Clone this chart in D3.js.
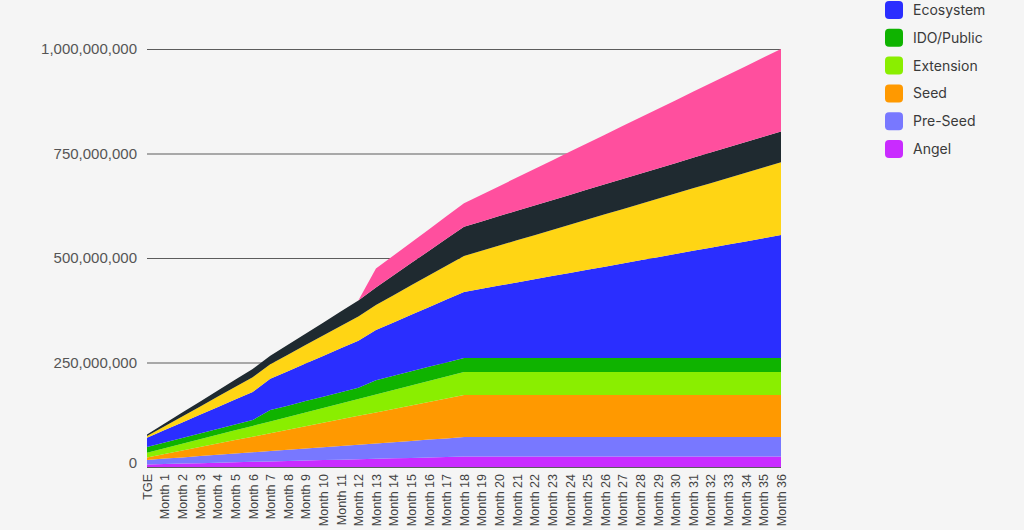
<!DOCTYPE html>
<html>
<head>
<meta charset="utf-8">
<script src="https://cdn.jsdelivr.net/npm/d3@7"></script>
<style>
  body { margin: 0; background: #f5f5f5; }
  svg { display: block; font-family: Inter, "Noto Sans", sans-serif; }
</style>
</head>
<body>
<div id="vis"></div>
<script>

// x categories
const MONTHS = ["TGE", "Month 1", "Month 2", "Month 3", "Month 4", "Month 5", "Month 6",
  "Month 7", "Month 8", "Month 9", "Month 10", "Month 11", "Month 12", "Month 13",
  "Month 14", "Month 15", "Month 16", "Month 17", "Month 18", "Month 19", "Month 20",
  "Month 21", "Month 22", "Month 23", "Month 24", "Month 25", "Month 26", "Month 27",
  "Month 28", "Month 29", "Month 30", "Month 31", "Month 32", "Month 33", "Month 34",
  "Month 35", "Month 36"];

// unlocked tokens per allocation, in millions
const ANGEL = [6, 7.1, 8.1, 9.2, 10.2, 11.3, 12.3, 13.4, 14.4, 15.5, 16.6, 17.6, 18.7, 19.7,
  20.8, 21.8, 22.9, 23.9, 25, 25, 25, 25, 25, 25, 25, 25, 25, 25, 25, 25, 25, 25, 25, 25, 25, 25, 25];
const PRE_SEED = [11, 13, 14.9, 16.9, 18.9, 20.9, 22.8, 24.8, 26.8, 28.8, 30.7, 32.7, 34.7, 36.6,
  38.6, 40.6, 42.6, 44.5, 46.5, 46.5, 46.5, 46.5, 46.5, 46.5, 46.5, 46.5, 46.5, 46.5, 46.5, 46.5,
  46.5, 46.5, 46.5, 46.5, 46.5, 46.5, 46.5];
const SEED = [6, 11.3, 16.5, 21.8, 27, 32.3, 37.5, 42.8, 48, 53.3, 58.5, 63.8, 69, 74.3, 79.5,
  84.8, 90, 95.3, 100.5, 100.5, 100.5, 100.5, 100.5, 100.5, 100.5, 100.5, 100.5, 100.5, 100.5,
  100.5, 100.5, 100.5, 100.5, 100.5, 100.5, 100.5, 100.5];
const EXTENSION = [11, 13.4, 15.9, 18.3, 20.8, 23.2, 25.7, 28.1, 30.6, 33, 35.4, 37.9, 40.3, 42.8,
  45.2, 47.7, 50.1, 52.6, 55, 55, 55, 55, 55, 55, 55, 55, 55, 55, 55, 55, 55, 55, 55, 55, 55, 55, 55];
const IDO_PUBLIC = [14, 14, 14, 14, 14, 14, 14, 27, 27, 27, 27, 27, 27, 34, 34, 34, 34, 34, 34,
  34, 34, 34, 34, 34, 34, 34, 34, 34, 34, 34, 34, 34, 34, 34, 34, 34, 34];
const ECOSYSTEM = [22, 29.6, 37.1, 44.7, 52.2, 59.8, 67.3, 74.9, 82.4, 90, 97.5, 105.1, 112.6,
  120.2, 127.7, 135.3, 142.8, 150.4, 157.9, 165.5, 173, 180.6, 188.1, 195.7, 203.2, 210.8, 218.3,
  225.9, 233.4, 241, 248.5, 256.1, 263.6, 271.2, 278.7, 286.3, 293.8];
const MARKETING = [4, 9.2, 14.3, 19.5, 24.7, 29.8, 35, 35, 39.6, 44.2, 48.8, 53.4, 58, 60, 65.2,
  70.4, 75.6, 80.8, 86, 90.9, 95.8, 100.7, 105.6, 110.4, 115.3, 120.2, 125.1, 130, 134.9, 139.8,
  144.7, 149.6, 154.4, 159.3, 164.2, 169.1, 174];
const ADVISORS = [4, 6.7, 9.3, 12, 14.7, 17.3, 20, 20, 23.6, 27.2, 30.8, 34.4, 38, 42, 47.6, 53.2,
  58.8, 64.4, 70, 70.2, 70.4, 70.7, 70.9, 71.1, 71.3, 71.6, 71.8, 72, 72.2, 72.4, 72.7, 72.9, 73.1,
  73.3, 73.6, 73.8, 74];
const TEAM = [0, 0, 0, 0, 0, 0, 0, 0, 0, 0, 0, 0, 0, 45, 47.2, 49.4, 51.6, 53.8, 56, 63.8, 71.7,
  79.5, 87.4, 95.2, 103.1, 110.9, 118.8, 126.6, 134.4, 142.3, 150.1, 158, 165.8, 173.7, 181.5,
  189.4, 197.2];

// series names, bottom to top of the stack
const SERIES = ["Angel", "Pre-Seed", "Seed", "Extension", "IDO/Public", "Ecosystem",
  "Marketing", "Advisors", "Team"];
const SERIES_VALUES = [ANGEL, PRE_SEED, SEED, EXTENSION, IDO_PUBLIC, ECOSYSTEM,
  MARKETING, ADVISORS, TEAM];

// legend entries that show on the page
const LEGEND = ["Ecosystem", "IDO/Public", "Extension", "Seed", "Pre-Seed", "Angel"];

// y tick values, in millions
const Y_TICKS = [0, 250, 500, 750, 1000];

// colours of the allocations
const COLORS = {
  "Angel": "#c92bff",
  "Pre-Seed": "#7878ff",
  "Seed": "#ff9900",
  "Extension": "#8aee00",
  "IDO/Public": "#0fb300",
  "Ecosystem": "#2a2eff",
  "Marketing": "#ffd514",
  "Advisors": "#1f2a30",
  "Team": "#ff4f9e"
};

// dimensions of the frame
const FRAME_WIDTH = 1024;
const FRAME_HEIGHT = 530;

// plot area edges
const PLOT = {left: 147, right: 781, top: 49, bottom: 467};

const FRAME = d3.select("#vis")
                .append("svg")
                  .attr("width", FRAME_WIDTH)
                  .attr("height", FRAME_HEIGHT);

// one row per month for the stack layout
const table = MONTHS.map((m, i) => {
  const row = {month: m};
  SERIES.forEach((s, j) => { row[s] = SERIES_VALUES[j][i]; });
  return row;
});

const X_SCALE = d3.scalePoint()
                  .domain(MONTHS)
                  .range([PLOT.left, PLOT.right]);

const Y_SCALE = d3.scaleLinear()
                  .domain([0, 1000])
                  .range([PLOT.bottom, PLOT.top]);

// y axis with the grid lines
const yAxis = FRAME.append("g")
                   .attr("transform", "translate(" + PLOT.left + ",0)")
                   .call(d3.axisLeft(Y_SCALE)
                           .tickValues(Y_TICKS)
                           .tickSize(-(PLOT.right - PLOT.left))
                           .tickPadding(10)
                           .tickFormat((d) => d3.format(",")(d * 1e6)));

yAxis.select(".domain").remove();
yAxis.selectAll("line")
     .attr("stroke", "#5c5c5c")
     .attr("stroke-width", 1.2);
yAxis.selectAll("text")
     .attr("font-size", "15px")
     .attr("fill", "#555")
     .attr("dy", (d) => d === 0 ? "0.05em" : "0.3em");

// stacked areas
const stacked = d3.stack().keys(SERIES)(table);

const area = d3.area()
               .x((d) => X_SCALE(d.data.month))
               .y0((d) => Y_SCALE(d[0]))
               .y1((d) => Y_SCALE(d[1]));

FRAME.selectAll(".layer")
     .data(stacked)
     .enter()
     .append("path")
       .attr("class", "layer")
       .attr("d", area)
       .attr("fill", (d) => COLORS[d.key]);

// x axis with rotated month labels
const xAxis = FRAME.append("g")
                   .attr("transform", "translate(0," + PLOT.bottom + ")")
                   .call(d3.axisBottom(X_SCALE).tickSize(0));

xAxis.select(".domain").remove();
xAxis.selectAll("text")
     .attr("transform", "rotate(-90)")
     .attr("text-anchor", "end")
     .attr("x", -7)
     .attr("y", 0)
     .attr("dy", "0.35em")
     .attr("font-size", "12.5px")
     .attr("fill", "#444");

// legend
const legend = FRAME.selectAll(".legend")
                    .data(LEGEND)
                    .enter()
                    .append("g")
                      .attr("class", "legend")
                      .attr("transform", (d, i) => "translate(885," + (10 + i * 27.8) + ")");

legend.append("rect")
      .attr("x", 0)
      .attr("y", -9)
      .attr("width", 18)
      .attr("height", 18)
      .attr("rx", 4)
      .attr("fill", (d) => COLORS[d]);

legend.append("text")
      .attr("x", 28)
      .attr("dy", "0.35em")
      .attr("font-size", "14px")
      .attr("fill", "#3a3a3a")
      .text((d) => d);

</script>
</body>
</html>
